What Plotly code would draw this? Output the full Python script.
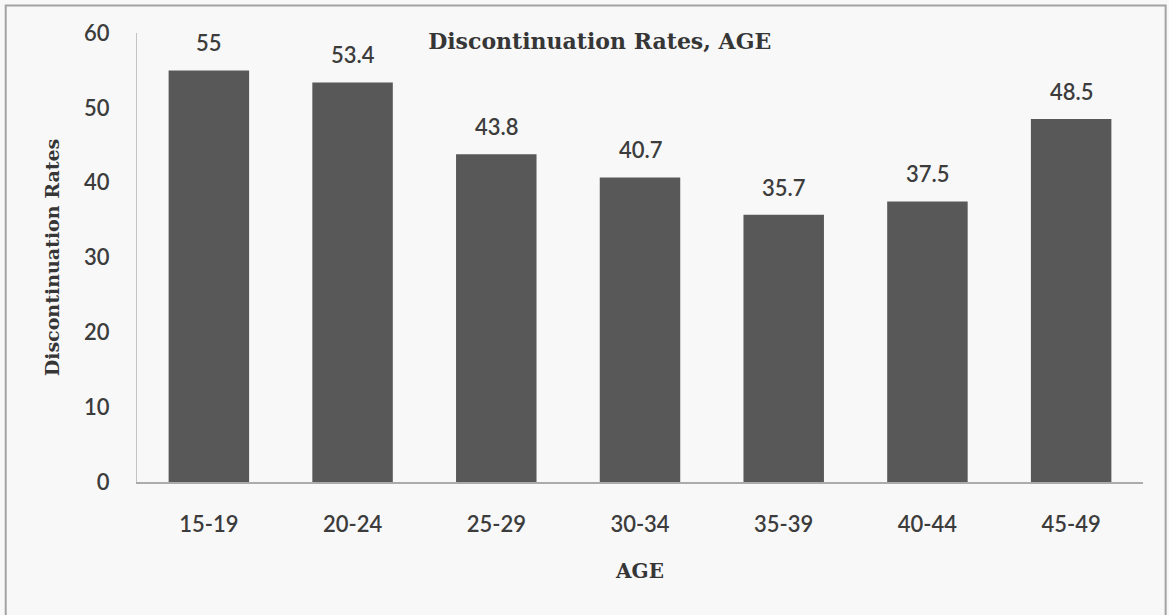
import plotly.graph_objects as go

# Discontinuation rates by age group
age_groups = ["15-19", "20-24", "25-29", "30-34", "35-39", "40-44", "45-49"]
rates = [55, 53.4, 43.8, 40.7, 35.7, 37.5, 48.5]
y_ticks = [0, 10, 20, 30, 40, 50, 60]

bar_color = "#585858"
text_color = "#3c3c3c"
serif = "DejaVu Serif"
sans = "Lato"

fig = go.Figure(
    go.Bar(
        x=age_groups,
        y=rates,
        marker=dict(color=bar_color, line=dict(width=0)),
        hoverinfo="x+y",
    )
)

# Value labels above each bar
for g, v in zip(age_groups, rates):
    fig.add_annotation(
        x=g, y=v, text=f"{v:g}", showarrow=False,
        yanchor="bottom", yshift=12,
        font=dict(family=sans, size=22, color=text_color, weight=600),
    )

# Outer frame around the whole chart
fig.add_shape(
    type="rect", xref="paper", yref="paper",
    x0=-0.1305, x1=1.0225, y0=-0.6, y1=1.061,
    line=dict(color="#a3a3a3", width=2), layer="below",
)

fig.update_layout(
    width=1169, height=615,
    margin=dict(l=137, r=26, t=33, b=133),
    paper_bgcolor="#f8f8f8",
    plot_bgcolor="#f8f8f8",
    bargap=0.44,
    showlegend=False,
    title=dict(
        text="<b>Discontinuation Rates, AGE</b>",
        x=0.513, xanchor="center", y=0.933, yanchor="middle",
        font=dict(family=serif, size=22, color="#363636"),
    ),
    xaxis=dict(
        title=dict(text="<b>AGE</b>", font=dict(family=serif, size=20, color="#363636"), standoff=28),
        showline=True, linecolor="#ababab", linewidth=2,
        ticks="", ticklabelstandoff=22,
        tickfont=dict(family=sans, size=22, color=text_color, weight=600),
        showgrid=False, zeroline=False,
    ),
    yaxis=dict(
        title=dict(text="<b>Discontinuation Rates</b>", font=dict(family=serif, size=19, color="#363636"), standoff=19),
        range=[0, 60], tickvals=y_ticks,
        showline=True, linecolor="#c4c4c4", linewidth=1,
        ticks="", ticklabelstandoff=22,
        tickfont=dict(family=sans, size=22, color=text_color, weight=600),
        showgrid=False, zeroline=False,
    ),
)

fig.write_html("out.html")
